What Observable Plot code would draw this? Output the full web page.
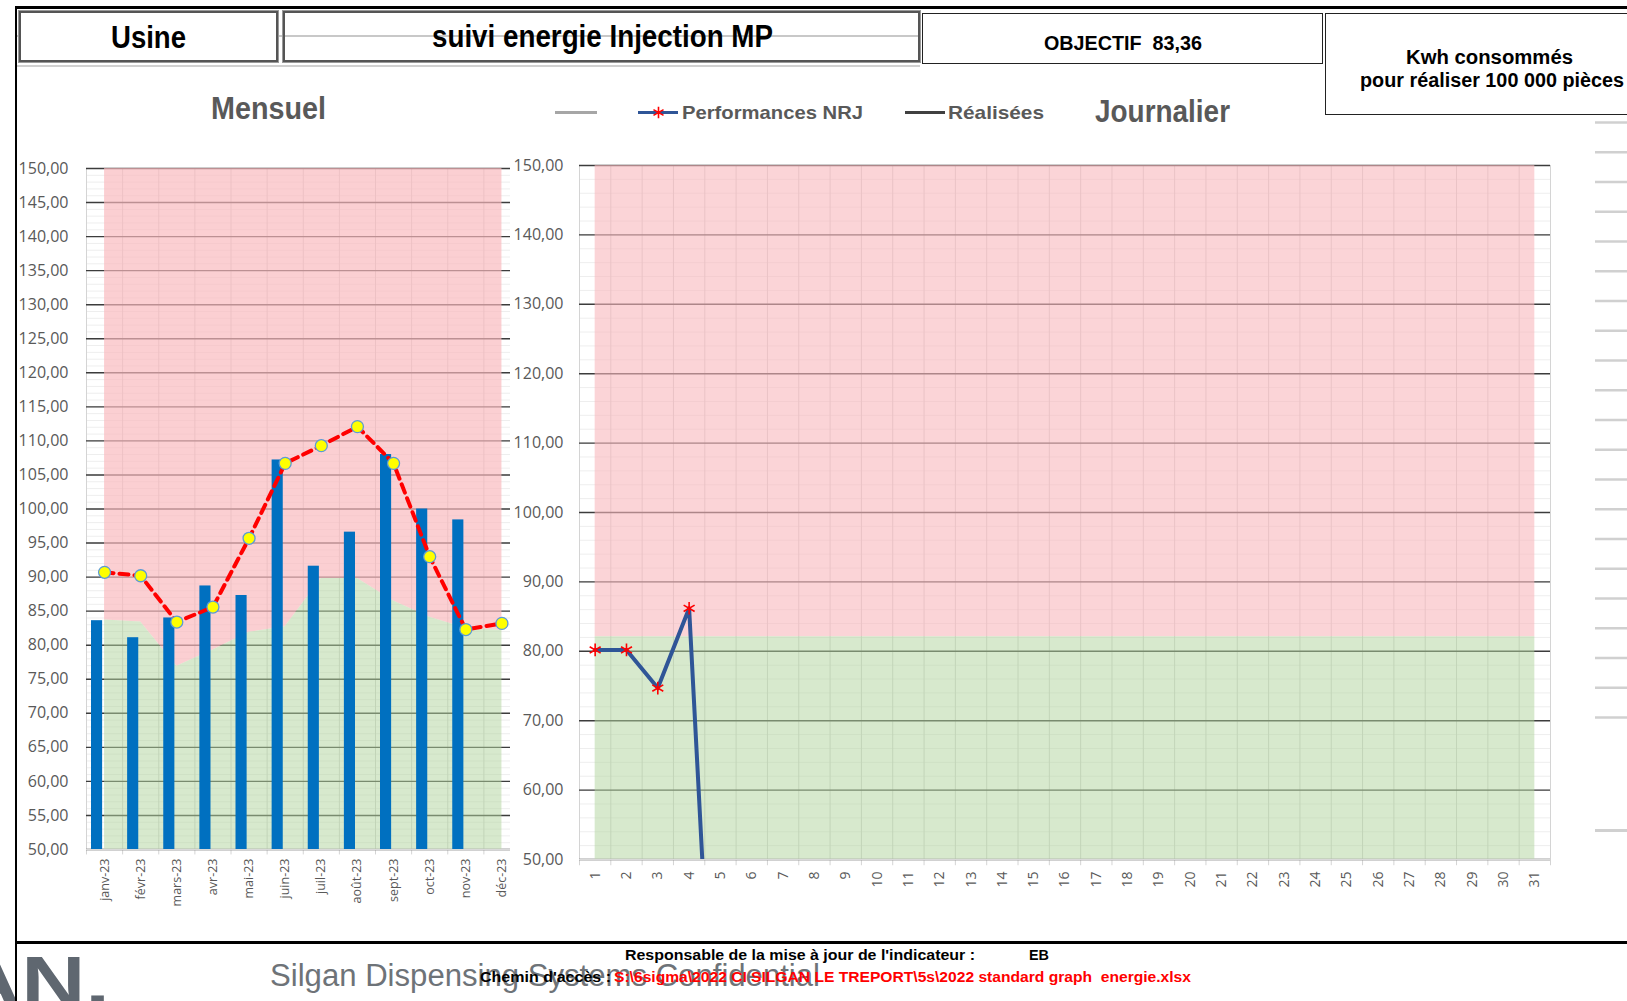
<!DOCTYPE html>
<html><head><meta charset="utf-8">
<script src="https://cdn.jsdelivr.net/npm/d3@7"></script>
<script src="https://cdn.jsdelivr.net/npm/@observablehq/plot@0.6"></script>
<style>
html,body{margin:0;padding:0;}
body{width:1627px;height:1001px;overflow:hidden;background:#fff;position:relative;font-family:"Liberation Sans",Arial,sans-serif;}
.abs{position:absolute;}
.box{position:absolute;box-sizing:border-box;border:1px solid #222;}
.t{position:absolute;white-space:nowrap;line-height:1;}
.t span{display:inline-block;transform-origin:0 50%;white-space:pre;}
</style></head><body>
<script>
// ---------- DATA ----------
const months = ["janv-23","févr-23","mars-23","avr-23","mai-23","juin-23","juil-23","août-23","sept-23","oct-23","nov-23","déc-23"];
const monthlyRealised = [83.6, 81.1, 84.0, 88.7, 87.3, 107.2, 91.6, 96.6, 108.0, 100.0, 98.4, null];
const monthlyPerf = [90.7, 90.2, 83.4, 85.6, 95.7, 106.7, 109.3, 112.1, 106.7, 93.0, 82.3, 83.2];
const monthlyTarget = [83.7, 83.4, 76.9, 79.3, 81.9, 82.7, 89.8, 89.8, 86.5, 84.1, 82.5, 82.2];
const leftTicks = [50,55,60,65,70,75,80,85,90,95,100,105,110,115,120,125,130,135,140,145,150];

const days = ["1","2","3","4","5","6","7","8","9","10","11","12","13","14","15","16","17","18","19","20","21","22","23","24","25","26","27","28","29","30","31"];
const dailyPerfDays = ["1","2","3","4","5"];
const dailyPerf = [80.2, 80.2, 74.7, 86.2, 0];
const dailyTarget = 82.1;
const rightTicks = [50,60,70,80,90,100,110,120,130,140,150];
const yMin = 50, yMax = 150;

const headerUsine = "Usine";
const headerTitle = "suivi energie Injection MP";
const headerObjectif = "OBJECTIF  83,36";
const headerKwh = ["Kwh consommés", "pour réaliser 100 000 pièces"];
const legendLabels = ["Performances NRJ", "Réalisées"];

// ---------- helpers ----------
const fmt = d => d.toFixed(2).replace(".", ",");
function el(tag, cls, style, text){
  const e = document.createElement(tag);
  if (cls) e.className = cls;
  Object.assign(e.style, style);
  if (text != null) e.textContent = text;
  document.body.appendChild(e);
  return e;
}
// text placed with left edge x, visual centre yc, squeezed to target width w
function txt(str, x, yc, size, w, opts = {}){
  const d = el("div", "t", {left: x + "px", top: (yc - 0.49 * size) + "px", fontSize: size + "px",
    fontWeight: opts.bold === false ? "normal" : "bold", color: opts.color || "#000",
    fontFamily: opts.font || '"Liberation Sans", Arial, sans-serif'});
  const s = document.createElement("span");
  s.textContent = str;
  d.appendChild(s);
  const real = s.getBoundingClientRect().width;
  if (w && real > 0) s.style.transform = `scaleX(${w / real})`;
  return d;
}
function place(node, left, top){
  const w = document.createElement("div");
  w.style.position = "absolute"; w.style.left = left + "px"; w.style.top = top + "px";
  w.style.lineHeight = "0";
  w.appendChild(node); document.body.appendChild(w);
}

const GRID = "#3c3c3c";
const PINK = "#F9B8BC", PINK_OP = 0.68;
const GREEN = "#B3D59F", GREEN_OP = 0.52;
const VGRID = "#D4D4D4";
const MINOR = "#EEEEEE";

// logo fragment (under the frame lines)
txt("AN.", -43, 981, 70, 153, {color: "#5F6770"});

// ---------- frame lines ----------
el("div","abs",{left:"17px",top:"35px",width:"903px",height:"1.5px",background:"#C8C8C8"});
el("div","abs",{left:"17px",top:"65px",width:"903px",height:"2px",background:"#D0D0D0"});
el("div","abs",{left:"16px",top:"6px",width:"1611px",height:"3px",background:"#000"});
el("div","abs",{left:"15px",top:"6px",width:"2px",height:"995px",background:"#000"});
el("div","abs",{left:"16px",top:"941px",width:"1611px",height:"3px",background:"#000"});

// ---------- header ----------
el("div","box",{left:"19px",top:"11px",width:"259px",height:"51px",background:"#fff",border:"2px solid #555",outline:"1px solid #999"});
el("div","box",{left:"283px",top:"11px",width:"637px",height:"51px",border:"2px solid #555",outline:"1px solid #999"});
el("div","box",{left:"922px",top:"13px",width:"401px",height:"51px",background:"#fff"});
el("div","box",{left:"1325px",top:"13px",width:"334px",height:"102px",background:"#fff"});
txt(headerUsine, 111, 37, 31, 75);
txt(headerTitle, 432, 36, 31, 341);
txt(headerObjectif, 1044, 43, 20, 158);
txt(headerKwh[0], 1406, 58, 19.5, 167);
txt(headerKwh[1], 1360, 81, 19.5, 264);

// titles
txt("Mensuel", 211, 108, 32, 115, {color: "#595959"});
txt("Journalier", 1095, 111, 32, 135, {color: "#595959"});

// legend
el("div","abs",{left:"555px",top:"110.5px",width:"42px",height:"3.5px",background:"#A6A6A6"});
el("div","abs",{left:"638px",top:"110.5px",width:"40px",height:"3.5px",background:"#2F5597"});
const leg = Plot.plot({width: 20, height: 20, margin: 0, x: {axis: null, domain: [0, 1]}, y: {axis: null, domain: [0, 1]},
  style: {background: "transparent", overflow: "visible", maxWidth: "none"},
  marks: [Plot.dot([0.5], {x: 0.5, y: 0.5, symbol: "asterisk", r: 5.5, stroke: "#FF0000", strokeWidth: 1.6})]});
place(leg, 648, 102);
txt(legendLabels[0], 682, 112, 19, 181, {color: "#595959"});
el("div","abs",{left:"905px",top:"110.5px",width:"40px",height:"3.5px",background:"#404040"});
txt(legendLabels[1], 948, 112, 19, 96, {color: "#595959"});

// ---------- LEFT CHART (Mensuel) ----------
const L0 = 86, L1 = 519.5;
const bwL = (L1 - L0) / months.length;
const leftRows = months.map((m, i) => ({m, real: monthlyRealised[i], perf: monthlyPerf[i], target: monthlyTarget[i]}));
const leftMinor = d3.range(yMin, yMax + 1, 1);
const left = Plot.plot({
  width: 520, height: 770,
  marginLeft: L0, marginRight: 520 - L1, marginTop: 28, marginBottom: 61,
  style: {fontFamily: "Open Sans", background: "transparent", overflow: "visible", maxWidth: "none"},
  x: {type: "band", domain: months, padding: 0, round: false, axis: null},
  y: {domain: [yMin, yMax], axis: null},
  marks: [
    Plot.ruleY(leftMinor, {stroke: MINOR, strokeWidth: 1, insetRight: 9.5}),
    Plot.ruleX(months, {x: d => d, dx: -bwL / 2, y1: yMin - 0.8, y2: yMax, stroke: VGRID}),
    Plot.ruleY(leftTicks, {stroke: GRID, strokeWidth: 1.4, insetRight: 9.5}),
    Plot.areaY(leftRows, {x: "m", y1: "target", y2: yMax, fill: PINK, fillOpacity: PINK_OP}),
    Plot.areaY(leftRows, {x: "m", y1: yMin, y2: "target", fill: GREEN, fillOpacity: GREEN_OP}),
    Plot.ruleY([yMin], {stroke: "#D9D9D9", strokeWidth: 1.5, insetRight: 9.5}),
    Plot.barY(leftRows.filter(d => d.real != null), {x: "m", y1: yMin, y2: "real", fill: "#0070C0", insetLeft: 5, insetRight: 20}),
    Plot.line(leftRows, {x: "m", y: "perf", stroke: "#FF0000", strokeWidth: 4, strokeDasharray: "9,6"}),
    Plot.dot(leftRows, {x: "m", y: "perf", r: 6, fill: "#FFFF00", stroke: "#5B9BD5", strokeWidth: 1.3}),
    Plot.axisY(leftTicks, {tickSize: 0, tickPadding: 18, tickFormat: fmt, fontSize: 16, fill: "#595959", label: null}),
    Plot.axisX(months, {tickRotate: -90, tickSize: 0, tickPadding: 9, fontSize: 12.5, fill: "#595959", label: null})
  ]
});
place(left, 0, 140);

// ---------- RIGHT CHART (Journalier) ----------
const R0 = 579, R1 = 1550;
const bwR = (R1 - R0) / days.length;
const rightRows = days.map(d => ({d, target: dailyTarget}));
const perfRows = dailyPerfDays.map((d, i) => ({d, v: dailyPerf[i]}));
const rightMinor = d3.range(yMin, yMax + 1, 2);
const right = Plot.plot({
  width: 1060, height: 770,
  marginLeft: R0 - 515, marginRight: 515 + 1060 - R1, marginTop: 25, marginBottom: 51,
  style: {fontFamily: "Open Sans", background: "transparent", overflow: "visible", maxWidth: "none"},
  x: {type: "band", domain: days, padding: 0, round: false, axis: null},
  y: {domain: [yMin, yMax], axis: null},
  marks: [
    Plot.ruleY(rightMinor, {stroke: MINOR, strokeWidth: 1}),
    Plot.ruleX(days, {x: d => d, dx: -bwR / 2, y1: yMin - 0.9, y2: yMax, stroke: VGRID}),
    Plot.ruleX([days[days.length - 1]], {x: d => d, dx: bwR / 2, y1: yMin - 0.9, y2: yMax, stroke: VGRID}),
    Plot.ruleY(rightTicks, {stroke: GRID, strokeWidth: 1.4}),
    Plot.areaY(rightRows, {x: "d", y1: "target", y2: yMax, fill: PINK, fillOpacity: 0.6}),
    Plot.areaY(rightRows, {x: "d", y1: yMin, y2: "target", fill: GREEN, fillOpacity: GREEN_OP}),
    Plot.ruleY([yMin], {stroke: "#D9D9D9", strokeWidth: 1.5}),
    Plot.line(perfRows, {x: "d", y: "v", stroke: "#2F5597", strokeWidth: 4, clip: true}),
    Plot.dot(perfRows, {x: "d", y: "v", symbol: "asterisk", r: 6, stroke: "#FF0000", strokeWidth: 1.6, clip: true}),
    Plot.axisY(rightTicks, {tickSize: 0, tickPadding: 16, tickFormat: fmt, fontSize: 16, fill: "#595959", label: null}),
    Plot.axisX(days, {tickRotate: -90, tickSize: 0, tickPadding: 12, fontSize: 14, fill: "#595959", label: null})
  ]
});
place(right, 515, 140);

// ---------- side decoration (gridlines of a chart beyond the right edge) ----------
const sideTicks = d3.range(0, 21);
const side = Plot.plot({
  width: 40, height: 760, margin: 0, marginTop: 22, marginBottom: 760 - (717 - 100),
  x: {axis: null, domain: [0, 1]}, y: {axis: null, domain: [20, 0]},
  style: {background: "transparent", overflow: "visible", maxWidth: "none"},
  marks: [Plot.ruleY(sideTicks, {stroke: "#D0D0D0", strokeWidth: 2.5})]
});
place(side, 1595, 100);
el("div","abs",{left:"1595px",top:"829px",width:"40px",height:"2.5px",background:"#D0D0D0"});

// ---------- footer ----------
txt("Silgan Dispensing Systems Confidential", 270, 975, 31, 550, {bold: false, color: "#6E7378"});
txt("Responsable de la mise à jour de l'indicateur :", 625, 955, 15.5, 350);
txt("EB", 1029, 955, 15.5, 20);
txt("Chemin d'accès :", 480, 976, 15, 131);
txt("S:\\6sigma\\2022 CI SILGAN LE TREPORT\\5s\\2022 standard graph  energie.xlsx", 614, 976, 15, 577, {color: "#FF0000"});
</script>
</body></html>
